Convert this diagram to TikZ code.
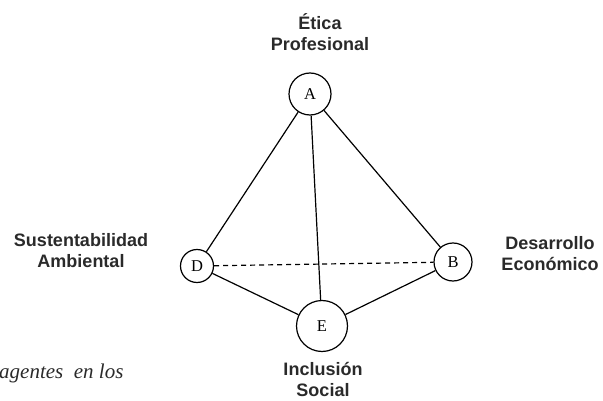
\documentclass[tikz,border=0pt]{standalone}
\usepackage{fontspec}
\setmainfont{Liberation Serif}
\setsansfont{Liberation Sans}
\definecolor{labelgray}{HTML}{2A2A2A}
\begin{document}
\begin{tikzpicture}[x=1pt,y=-1pt,
  vert/.style={circle,draw,line width=1.2pt,inner sep=0pt,font=\fontsize{16.5}{16.5}\selectfont},
  lab/.style={align=center,text=labelgray,font=\sffamily\bfseries\fontsize{18}{21}\selectfont},
  edge/.style={line width=1.2pt}]
\useasboundingbox (0,0) rectangle (603,401);
\node[vert,minimum size=42pt] (A) at (310,94) {A};
\node[vert,minimum size=33pt] (D) at (197,266) {D};
\node[vert,minimum size=38pt] (B) at (453,262) {B};
\node[vert,minimum size=51pt] (E) at (322,326) {E};
\draw[edge] (A) -- (D);
\draw[edge] (A) -- (E);
\draw[edge] (A) -- (B);
\draw[edge] (D) -- (E);
\draw[edge] (E) -- (B);
\draw[edge,dashed,dash pattern=on 5pt off 4pt] (D) -- (B);
\node[lab] (lA) at (320,32) {Ética\\Profesional};
\node[lab] (lD) at (81,251) {Sustentabilidad\\Ambiental};
\node[lab] (lB) at (550,254) {Desarrollo\\Económico};
\node[lab] (lE) at (323,379) {Inclusión\\Social};
\node[anchor=base west,inner sep=0pt,text=labelgray,font=\itshape\fontsize{21}{21}\selectfont] (t) at (-1,378) {agentes\ \ en los};
\end{tikzpicture}
\end{document}
